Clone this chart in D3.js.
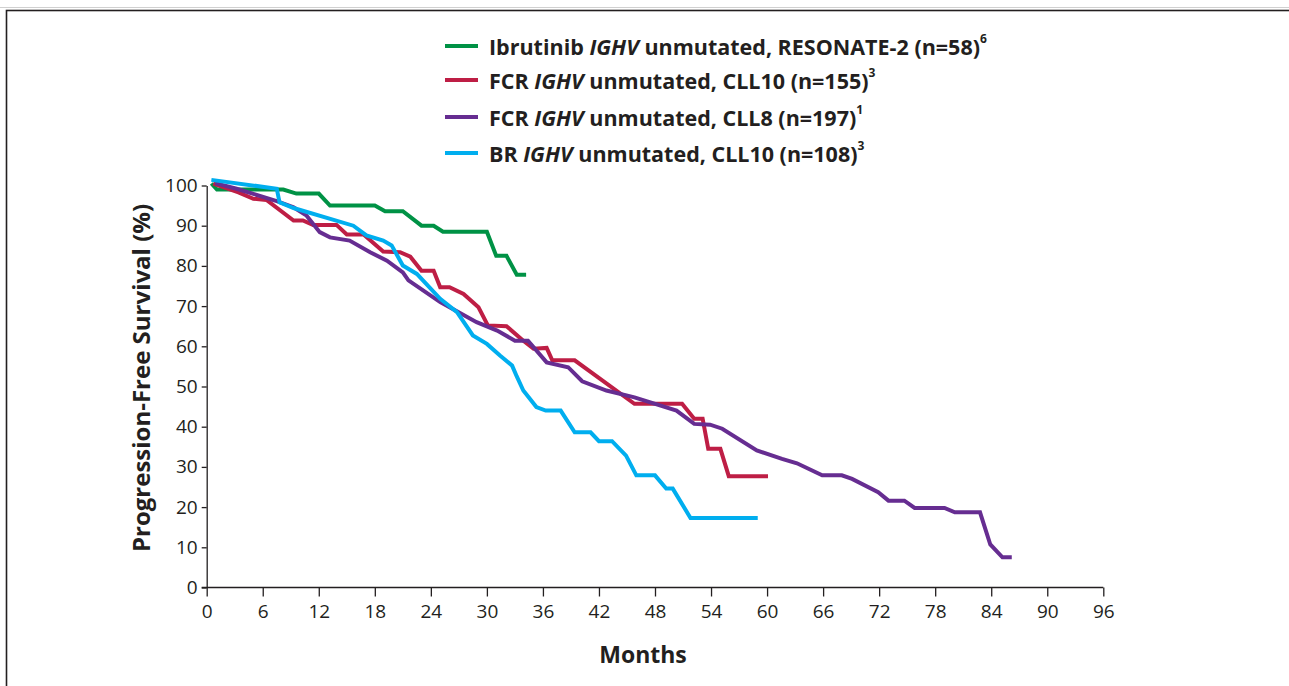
<!DOCTYPE html>
<html>
<head>
<meta charset="utf-8">
<script src="https://cdn.jsdelivr.net/npm/d3@7"></script>
<style>
  html, body { margin: 0; padding: 0; background: #fff; }
  svg { display: block; font-family: "Open Sans", "Noto Sans", sans-serif; }
</style>
</head>
<body>
<div id="chart"></div>
<script>
// --- Data (months, PFS %) ---
const xTicks = [0, 6, 12, 18, 24, 30, 36, 42, 48, 54, 60, 66, 72, 78, 84, 90, 96];
const yTicks = [0, 10, 20, 30, 40, 50, 60, 70, 80, 90, 100];

const ibrutinib = [[0.5,100.5],[1.1,99],[8.2,99],[9.6,98],[12,98],[13.2,95],[18,95],[19.1,93.6],[21,93.6],
  [23,90],[24.3,90],[25.3,88.5],[30,88.5],[31,82.5],[32.1,82.5],[33.2,77.8],[34.2,77.8]];

const fcrCll10 = [[0.7,100.5],[3.4,98.3],[5,96.7],[6.4,96.4],[9.3,91.3],[10.3,91.3],[11.4,90.2],[13.9,90.2],
  [15,87.8],[16.8,87.8],[18.9,83.6],[20.7,83.4],[21.8,82.3],[23,78.8],[24.3,78.8],[25,74.7],[26,74.7],
  [27.5,73],[29.1,69.7],[30.1,65.2],[32.1,65],[33.9,61.4],[35,59.4],[36.4,59.6],[37,56.5],[39.4,56.5],
  [45.8,45.7],[50.9,45.7],[52.2,42],[53.1,42],[53.7,34.5],[55,34.5],[55.9,27.7],[60.1,27.7]];

const fcrCll8 = [[0.9,100.6],[3.2,99.2],[5,97.9],[7.5,96.1],[9.3,94.6],[10.7,92.5],[12.1,88.4],[13.2,87.1],
  [15.3,86.3],[17.5,83.4],[19.3,81.3],[21,78.4],[21.6,76.4],[25,71],[28.9,66],[31.1,63.9],[33,61.4],
  [34.4,61.4],[36.4,56],[38.7,54.8],[40.2,51.3],[42.8,49],[45.8,47.3],[50.3,44],[52.2,40.7],[53.9,40.5],
  [55.2,39.5],[58.9,34.1],[61.6,32],[63.2,30.9],[65.9,27.9],[68,27.9],[69.1,27],[71.9,23.7],[73,21.6],
  [74.7,21.6],[75.8,19.8],[79,19.8],[80.1,18.7],[82.8,18.7],[83.9,10.7],[85.2,7.5],[86.2,7.5]];

const brCll10 = [[0.5,101.4],[7.5,99.2],[7.8,95.8],[9.3,94.4],[15.7,90],[17.1,87.6],[18.9,86.3],[19.8,85.1],
  [21,80.1],[22.5,78],[25,71.8],[26.8,68.5],[28.5,62.7],[30,60.6],[31.4,57.7],[32.7,55.2],[33.2,52.5],
  [33.9,49],[35.3,44.9],[36.3,44],[37.9,44],[39.4,38.6],[41.1,38.6],[42,36.4],[43.4,36.4],[44.9,32.8],
  [46,27.9],[48,27.9],[49.2,24.6],[49.9,24.6],[51.8,17.3],[59,17.3]];

// legend order (top to bottom); drawing order is the same, so BR ends on top
const series = [
  { name: 'Ibrutinib', trial: ' unmutated, RESONATE-2 (n=58)', ref: '6', color: '#009245', data: ibrutinib },
  { name: 'FCR', trial: ' unmutated, CLL10 (n=155)', ref: '3', color: '#be1e45', data: fcrCll10 },
  { name: 'FCR', trial: ' unmutated, CLL8 (n=197)', ref: '1', color: '#662d91', data: fcrCll8 },
  { name: 'BR', trial: ' unmutated, CLL10 (n=108)', ref: '3', color: '#00aeef', data: brCll10 }
];

// --- Setup ---
const width = 1289, height = 686;
const svg = d3.select('#chart').append('svg')
  .attr('width', width)
  .attr('height', height);

// outer frame (runs off the right/bottom edges like the source)
svg.append('line').attr('x1', 0).attr('x2', width).attr('y1', 7.5).attr('y2', 7.5)
  .attr('stroke', '#d0d0d0').attr('stroke-width', 1);
svg.append('rect')
  .attr('x', 6.5).attr('y', 10.5).attr('width', width + 20).attr('height', height + 20)
  .attr('fill', 'none').attr('stroke', '#231f20').attr('stroke-width', 1.6);

const x = d3.scaleLinear().domain([0, 96]).range([206.7, 1103.3]);
const y = d3.scaleLinear().domain([0, 100]).range([587.5, 185.5]);

// axes
const xAxis = svg.append('g')
  .attr('transform', `translate(0,${y(0)})`)
  .call(d3.axisBottom(x).tickValues(xTicks).tickSize(9).tickSizeOuter(0).tickPadding(8));

const yAxis = svg.append('g')
  .attr('transform', `translate(${x(0)},0)`)
  .call(d3.axisLeft(y).tickValues(yTicks).tickSize(5).tickSizeOuter(0).tickPadding(4));

[xAxis, yAxis].forEach(a => {
  a.select('.domain').attr('stroke', '#231f20').attr('stroke-width', 1.3);
  a.selectAll('.tick line').attr('stroke', '#231f20').attr('stroke-width', 1.3);
  a.selectAll('.tick text').attr('fill', '#231f20').style('font-size', '19px')
    .style('font-family', '"Open Sans", sans-serif');
});
// extend x domain a little left of zero like the source
xAxis.select('.domain').attr('d', `M${x(0) - 5},0H${x(96)}`);

// axis titles
svg.append('text')
  .attr('transform', `translate(140,378) rotate(-90)`)
  .attr('text-anchor', 'middle')
  .attr('dominant-baseline', 'central')
  .attr('fill', '#231f20')
  .style('font-size', '24px').style('font-weight', 700)
  .text('Progression-Free Survival (%)');

svg.append('text')
  .attr('x', 643).attr('y', 654)
  .attr('text-anchor', 'middle')
  .attr('dominant-baseline', 'central')
  .attr('fill', '#231f20')
  .style('font-size', '23px').style('font-weight', 700)
  .text('Months');

// --- Survival curves ---
const line = d3.line()
  .x(d => x(d[0]))
  .y(d => y(d[1]));

svg.append('g').attr('class', 'curves')
  .selectAll('path')
  .data(series)
  .join('path')
  .attr('d', d => line(d.data))
  .attr('fill', 'none')
  .attr('stroke', d => d.color)
  .attr('stroke-width', 4)
  .attr('stroke-linejoin', 'miter')
  .attr('stroke-miterlimit', 2);

// --- Legend ---
const legend = svg.append('g').attr('class', 'legend');
const rowY = [46, 80, 117, 153];

const item = legend.selectAll('g')
  .data(series)
  .join('g')
  .attr('transform', (d, i) => `translate(0,${rowY[i]})`);

item.append('line')
  .attr('x1', 445).attr('x2', 478)
  .attr('stroke', d => d.color)
  .attr('stroke-width', 4);

const label = item.append('text')
  .attr('x', 489)
  .attr('dominant-baseline', 'central')
  .attr('fill', '#231f20')
  .style('font-size', '21.5px').style('font-weight', 700);

label.append('tspan').text(d => d.name + ' ');
label.append('tspan').style('font-style', 'italic').text('IGHV');
label.append('tspan').text(d => d.trial);
label.append('tspan')
  .attr('dy', -8)
  .style('font-size', '12px')
  .text(d => d.ref);
</script>
</body>
</html>
